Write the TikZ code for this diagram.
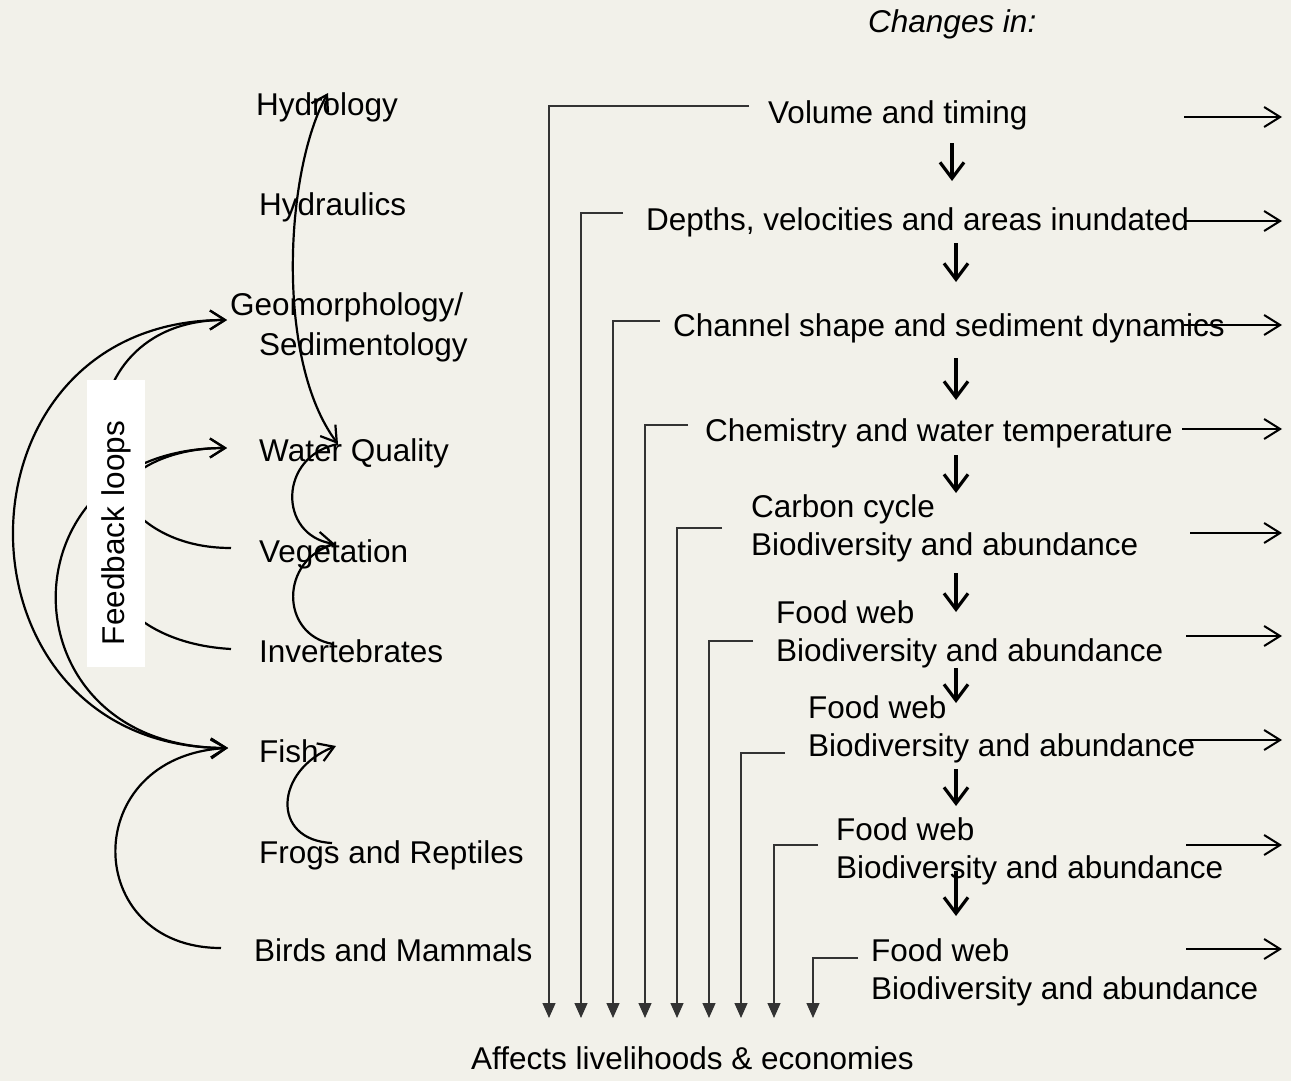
\documentclass[tikz,border=0pt]{standalone}
\usepackage{fontspec}
\setmainfont{Liberation Sans}
\usetikzlibrary{arrows.meta}
\definecolor{paper}{RGB}{242,241,234}

\begin{document}
\begin{tikzpicture}[x=1pt,y=-1pt,
  txt/.style={anchor=base west,inner sep=0pt,font=\fontsize{31.5}{38}\selectfont},
  fb/.style={line width=2.2pt,>={Straight Barb[length=15pt,width=19pt]}},
  godown/.style={line width=3.2pt,>={Straight Barb[length=16pt,width=24pt]}},
  goout/.style={line width=2pt,>={Straight Barb[length=16pt,width=20pt]}},
  feed/.style={line width=1.3pt,black!80,>={Triangle[length=15pt,width=13pt]}}]
  \path[use as bounding box,fill=paper] (0,0) rectangle (1291,1081);

  \node[txt,font=\fontsize{31.5}{38}\selectfont\itshape] (chg) at (868,33) {Changes in:};

  \node[txt] (hyd) at (256,115) {Hydrology};
  \node[txt] (hyc) at (259,215) {Hydraulics};
  \node[txt] (geo) at (230,315) {Geomorphology/};
  \node[txt] (sed) at (259,355) {Sedimentology};
  \node[txt] (wq) at (259,461) {Water Quality};
  \node[txt] (veg) at (259,562) {Vegetation};
  \node[txt] (inv) at (259,662) {Invertebrates};
  \node[txt] (fish) at (259,762) {Fish};
  \node[txt] (frog) at (259,863) {Frogs and Reptiles};
  \node[txt] (bird) at (254,961) {Birds and Mammals};

  \node[txt] (vol) at (768,124) {Volume and timing};
  \node[txt] (dep) at (646,230) {Depths, velocities and areas inundated};
  \node[txt] (chan) at (673,336) {Channel shape and sediment dynamics};
  \node[txt] (chem) at (705,441) {Chemistry and water temperature};
  \node[txt] (carb) at (751,517) {Carbon cycle};
  \node[txt] (carbb) at (751,555) {Biodiversity and abundance};
  \foreach \x/\y [count=\i] in {776/623, 808/718, 836/840, 871/961} {
    \node[txt] (food\i) at (\x,\y) {Food web};
    \node[txt] (bio\i) at (\x,\y+38) {Biodiversity and abundance};
  }
  \node[txt] (aff) at (471,1069) {Affects livelihoods \& economies};

  \coordinate (pgeo) at (227,320);
  \coordinate (pwq) at (227,448);
  \coordinate (pveg) at (231,548);
  \coordinate (pinv) at (231,649);
  \coordinate (pfish) at (228,748);
  \coordinate (pbird) at (221,948);
  \coordinate (qhyd) at (328,93);
  \coordinate (qwq) at (338,444);
  \coordinate (qveg) at (335,544);
  \coordinate (qinv) at (333,644);
  \coordinate (qfish) at (336,746);
  \coordinate (qfrog) at (332,843);

  \draw[fb,<->] (pgeo) .. controls +(-285,0) and +(-285,0) .. (pfish);
  \draw[fb,->] (pveg) .. controls +(-170,0) and +(-167,0) .. (pgeo);
  \draw[fb,->] (pinv) .. controls +(-175,-10) and +(-170,0) .. (pwq);
  \draw[fb,<->] (pfish) .. controls +(-228,0) and +(-228,0) .. (pwq);
  \draw[fb,->] (pbird) .. controls +(-140,0) and +(-150,8) .. (pfish);

  \draw[fb,<->] (qhyd) .. controls +(-43,77) and +(-63,-84) .. (qwq);
  \draw[fb,->] (qwq) .. controls +(-60,12) and +(-57,-9) .. (qveg);
  \draw[fb] (qveg) .. controls +(-56,15) and +(-53,-9) .. (qinv);
  \draw[fb,->] (qfrog) .. controls +(-62,-3) and +(-61,24) .. (qfish);

  \node[fill=white,rotate=90,minimum width=287pt,minimum height=58pt,inner xsep=22pt,inner ysep=0pt,
    text width=243pt,align=left,font=\fontsize{31.5}{38}\selectfont] (fbox) at (116,523.5) {Feedback loops};

  \foreach \hx/\hy/\vx [count=\i] in {749/106/549, 623/213/581, 660/321/613, 688/425/645, 722/528/677,
      753/641/709, 785/753/741, 818/845/774, 858/958/813} {
    \coordinate (h\i) at (\hx,\hy);
    \coordinate (t\i) at (\vx,1018);
    \draw[feed,->] (h\i) -| (t\i);
  }
  \foreach \x/\ya/\yb [count=\i] in {952/143/181, 956/243/282, 956/358/400, 956/455/493,
      956/573/612, 956/668/703, 956/769/806, 956/871/916} {
    \coordinate (da\i) at (\x,\ya);
    \coordinate (db\i) at (\x,\yb);
    \draw[godown,->] (da\i) -- (db\i);
  }
  \coordinate (rim) at (1282,0);
  \foreach \x/\y [count=\i] in {1184/117, 1184/221, 1184/325, 1182/429, 1190/533,
      1186/636, 1186/740, 1186/845, 1186/949} {
    \coordinate (o\i) at (\x,\y);
    \draw[goout,->] (o\i) -- (o\i -| rim);
  }
\end{tikzpicture}
\end{document}
